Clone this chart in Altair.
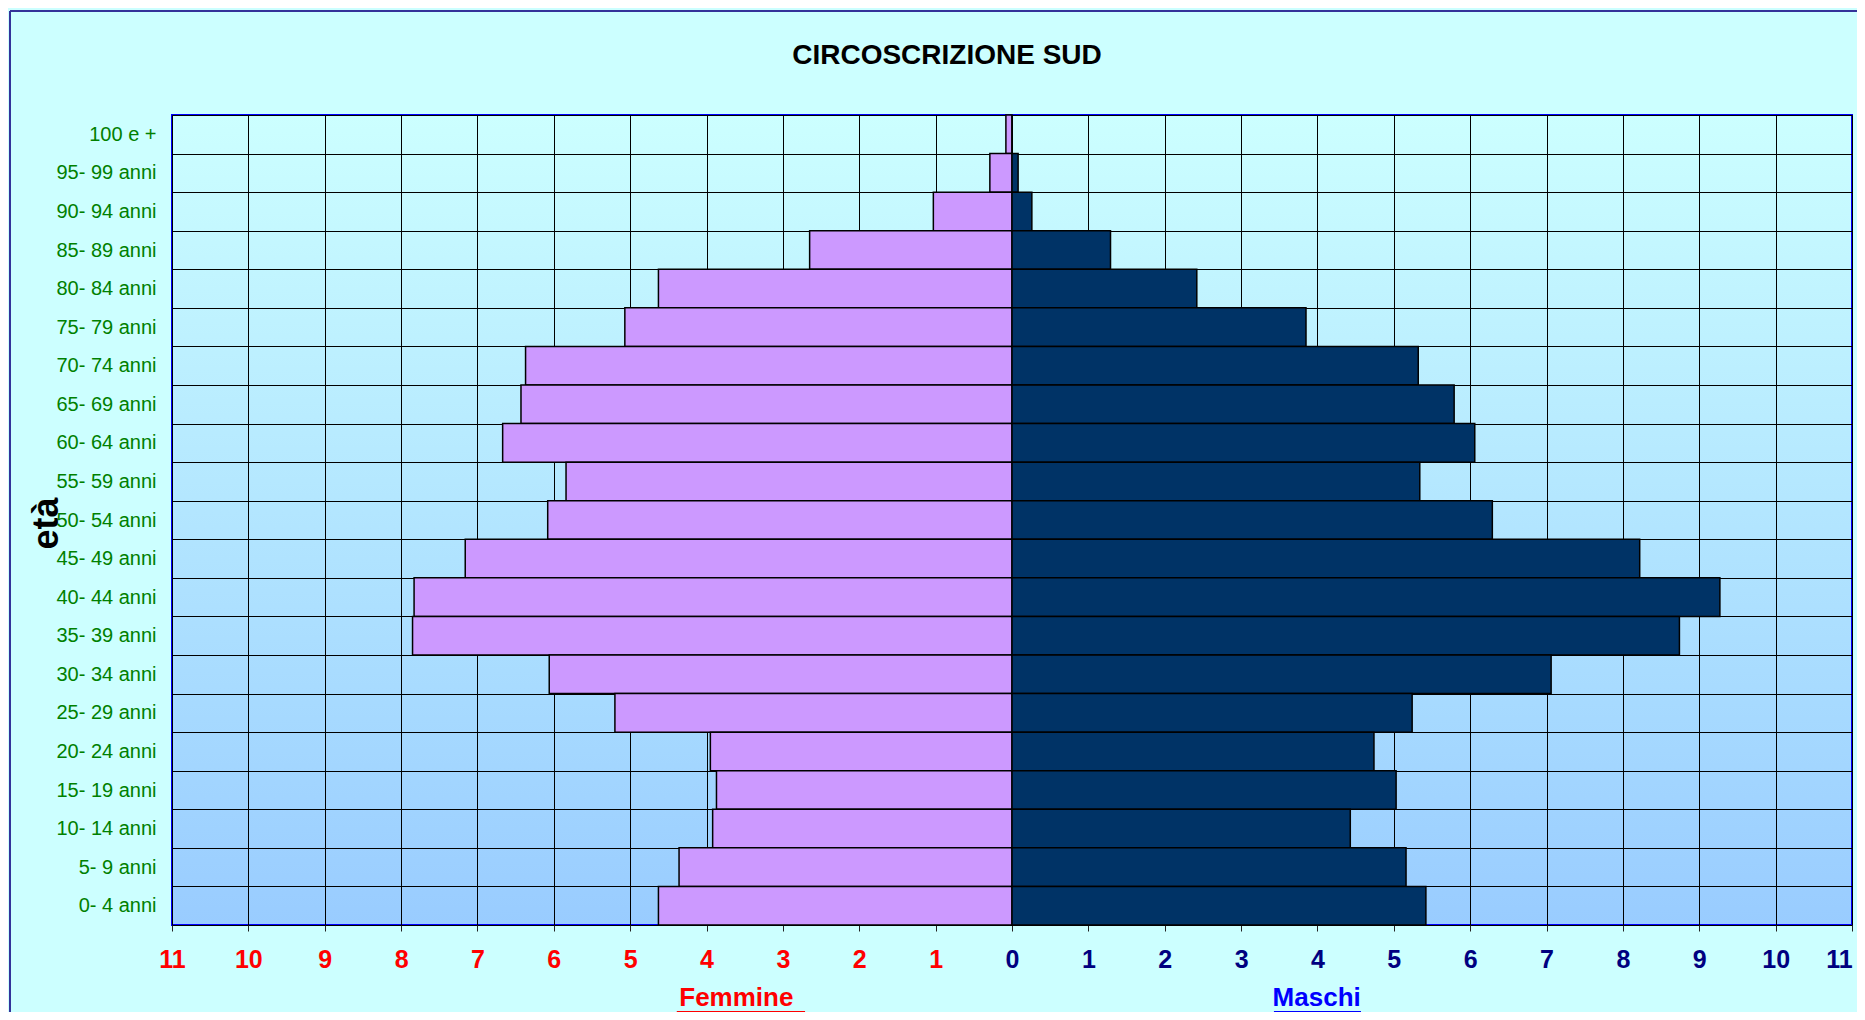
import altair as alt
import pandas as pd

# ---- data ----
ages = ["100 e +", "95- 99 anni", "90- 94 anni", "85- 89 anni", "80- 84 anni",
        "75- 79 anni", "70- 74 anni", "65- 69 anni", "60- 64 anni", "55- 59 anni",
        "50- 54 anni", "45- 49 anni", "40- 44 anni", "35- 39 anni", "30- 34 anni",
        "25- 29 anni", "20- 24 anni", "15- 19 anni", "10- 14 anni", "5- 9 anni",
        "0- 4 anni"]
femmine = [0.08, 0.29, 1.03, 2.65, 4.63, 5.07, 6.37, 6.43, 6.67, 5.84, 6.08,
           7.16, 7.83, 7.85, 6.06, 5.20, 3.95, 3.87, 3.92, 4.36, 4.63]
maschi = [0.0, 0.08, 0.26, 1.29, 2.42, 3.85, 5.32, 5.79, 6.06, 5.34, 6.29,
          8.22, 9.27, 8.74, 7.06, 5.24, 4.74, 5.03, 4.43, 5.16, 5.42]
ticks = list(range(-11, 12))
sexes = ["Femmine", "Maschi"]
sex_colors = ["#CC99FF", "#003366"]
label_names = ["Femmine", "Maschi"]
label_pos = [-3.61, 3.99]
label_ul_start = [-4.39, 3.43]
label_ul_end = [-2.71, 4.57]
label_colors = ["#FF0000", "#0000FF"]
chart_title = "CIRCOSCRIZIONE SUD"

FONT = "Liberation Sans"
W, H = 1680, 810

df = pd.DataFrame({
    "age": ages * 2,
    "sesso": ["Femmine"] * len(ages) + ["Maschi"] * len(ages),
    "val": [-v for v in femmine] + maschi,
})

x_scale = alt.Scale(domain=[-11, 11], nice=False)
y_scale = alt.Scale(domain=ages, paddingInner=0, paddingOuter=0)

bars = alt.Chart(df).mark_bar(stroke="black", strokeWidth=1.5).encode(
    y=alt.Y("age:N", scale=y_scale, sort=ages,
            axis=alt.Axis(title="età", tickBand="extent", grid=True,
                          gridColor="black", gridWidth=1, gridOpacity=1,
                          ticks=False, domain=False,
                          labelColor="#008000", labelFont=FONT, labelFontSize=20,
                          labelPadding=16,
                          titleFont=FONT, titleFontSize=36, titleFontWeight="bold",
                          titleColor="black", titleAngle=270,
                          titleX=-126, titleY=408,
                          titleAlign="center", titleBaseline="middle")),
    x=alt.X("val:Q", scale=x_scale,
            axis=alt.Axis(title=None, values=ticks, labelExpr="abs(datum.value)",
                          grid=True, gridColor="black", gridWidth=1, gridOpacity=1,
                          domain=False, tickColor="#222222", tickSize=6,
                          labelFont=FONT, labelFontSize=25, labelFontWeight="bold",
                          labelColor={"condition": {"test": "datum.value < 0",
                                                    "value": "#FF0000"},
                                      "value": "#000080"},
                          labelOffset={"condition": {"test": "datum.value >= 11",
                                                     "value": -13},
                                       "value": 0},
                          labelPadding=16, labelFlush=False)),
    color=alt.Color("sesso:N", scale=alt.Scale(domain=sexes, range=sex_colors),
                    legend=None),
)

layers = [bars]
for name, pos, u0, u1, col in zip(label_names, label_pos, label_ul_start,
                                   label_ul_end, label_colors):
    d = pd.DataFrame({"label": [name], "x": [pos], "u0": [u0], "u1": [u1]})
    layers.append(alt.Chart(d).mark_text(font=FONT, fontSize=26, fontWeight="bold",
                                         color=col, baseline="middle").encode(
        x=alt.X("x:Q", scale=x_scale), y=alt.value(883), text="label:N"))
    layers.append(alt.Chart(d).mark_rule(color=col, strokeWidth=2).encode(
        x=alt.X("u0:Q", scale=x_scale), x2="u1:Q", y=alt.value(897)))

frame = pd.DataFrame({"k": [0]})
layers.append(alt.Chart(frame).mark_rule(color="#333399", strokeWidth=2).encode(
    x=alt.value(-162), y=alt.value(-104), y2=alt.value(H + 95)))
layers.append(alt.Chart(frame).mark_rule(color="#333399", strokeWidth=2).encode(
    x=alt.value(-162), x2=alt.value(W + 6), y=alt.value(-104)))

tdf = pd.DataFrame({"t": [chart_title]})
layers.append(alt.Chart(tdf).mark_text(font=FONT, fontSize=28, fontWeight="bold",
                                       color="black", baseline="middle",
                                       align="center").encode(
    x=alt.value(775), y=alt.value(-59), text="t:N"))

grad = ("{gradient:'linear',x1:0,y1:0,x2:0,y2:1,"
        "stops:[{offset:0,color:'#CCFFFF'},{offset:1,color:'#99CCFF'}]}")

chart = alt.layer(*layers).properties(
    width=W, height=H,
    autosize=alt.AutoSizeParams(type="none"),
    padding={"left": 164, "top": 107, "right": 5, "bottom": 87},
    background="#CCFFFF",
).configure_view(
    fill=alt.ExprRef(grad), stroke="#0000FF", strokeWidth=2
)

chart.save("out.html", embed_options={"renderer": "svg", "actions": False})
